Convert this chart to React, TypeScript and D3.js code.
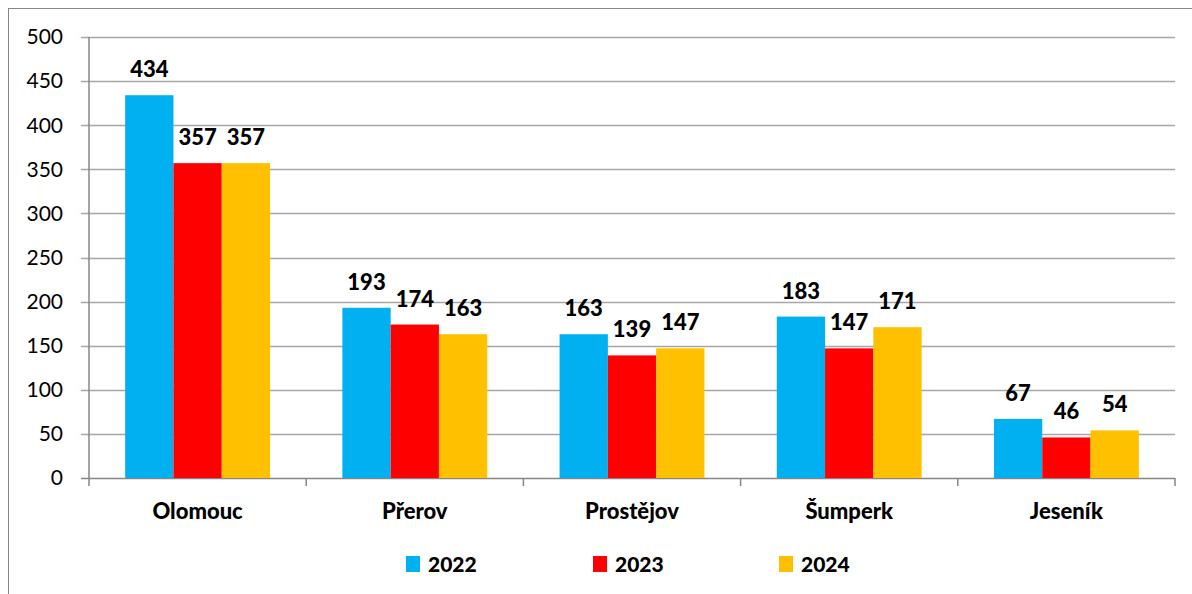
import React from "react";
import * as d3 from "d3";

const categories = ["Olomouc", "Přerov", "Prostějov", "Šumperk", "Jeseník"];
const seriesNames = ["2022", "2023", "2024"];
const values2022 = [434, 193, 163, 183, 67];
const values2023 = [357, 174, 139, 147, 46];
const values2024 = [357, 163, 147, 171, 54];
const colors = ["#00B0F0", "#FF0000", "#FFC000"];
const yTicks = [0, 50, 100, 150, 200, 250, 300, 350, 400, 450, 500];

const W = 1192;
const H = 594;
const left = 89;
const right = 1175;
const top = 37;
const bottom = 478;
const FONT = "Lato, 'Open Sans', sans-serif";

export default function App() {
  const series = [values2022, values2023, values2024];
  const x = d3.scaleBand<string>().domain(categories).range([left, right]).paddingInner(0.333).paddingOuter(0.1665);
  const x1 = d3.scaleBand<string>().domain(seriesNames).range([0, x.bandwidth()]);
  const y = d3.scaleLinear().domain([0, 500]).range([bottom, top]);
  const step = (right - left) / categories.length;
  const legendX = [406, 593, 779];

  return (
    <svg width={W} height={H} style={{ position: "absolute", left: 0, top: 0 }}>
      <rect x={0} y={0} width={W} height={H} fill="#fff" />
      <rect x={8.5} y={8.5} width={W + 20} height={H + 20} fill="none" stroke="#868686" strokeWidth={1} />
      {yTicks.map((t) => (
        <g key={t}>
          <line x1={81} x2={right} y1={Math.round(y(t)) + 0.5} y2={Math.round(y(t)) + 0.5} stroke={t === 0 ? "#868686" : "#a6a6a6"} strokeWidth={1.5} />
          <text x={63} y={y(t)} dy="0.35em" textAnchor="end" fontFamily={FONT} fontSize={21} fill="#000">{t}</text>
        </g>
      ))}
      <line x1={left} x2={left} y1={top} y2={486} stroke="#868686" strokeWidth={1.5} />
      {categories.map((c, i) => (
        <line key={c} x1={left + step * (i + 1)} x2={left + step * (i + 1)} y1={bottom} y2={486} stroke="#868686" strokeWidth={1.5} />
      ))}
      {categories.map((c, ci) => (
        <g key={c}>
          {series.map((s, si) => {
            const bx = (x(c) ?? 0) + (x1(seriesNames[si]) ?? 0);
            const by = y(s[ci]);
            return (
              <g key={si}>
                <rect x={bx} y={by} width={x1.bandwidth()} height={bottom - by} fill={colors[si]} />
                <text x={bx + x1.bandwidth() / 2} y={by - 18} textAnchor="middle" fontFamily={FONT} fontWeight={900} fontSize={22} fill="#000">{s[ci]}</text>
              </g>
            );
          })}
          <text x={(x(c) ?? 0) + x.bandwidth() / 2} y={519} textAnchor="middle" fontFamily={FONT} fontWeight={900} fontSize={22} fill="#000">{c}</text>
        </g>
      ))}
      {seriesNames.map((n, i) => (
        <g key={n}>
          <rect x={legendX[i]} y={556} width={14} height={16} fill={colors[i]} />
          <text x={legendX[i] + 22} y={572} fontFamily={FONT} fontWeight={900} fontSize={21} fill="#000">{n}</text>
        </g>
      ))}
    </svg>
  );
}
